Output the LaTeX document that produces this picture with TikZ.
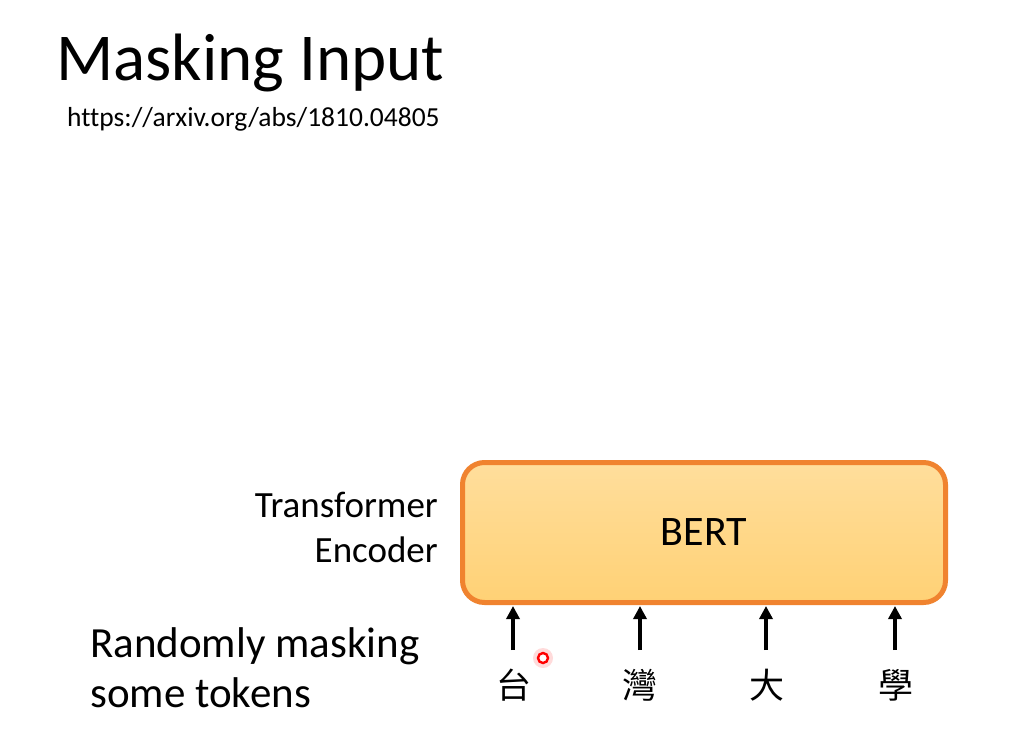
\documentclass[tikz,border=0pt]{standalone}
\usepackage{fontspec}
\setmainfont[Ligatures=NoCommon]{Carlito}
\newfontfamily\cjk{Noto Sans CJK TC}
\usetikzlibrary{arrows.meta}
\definecolor{boxedge}{HTML}{F0832F}
\definecolor{boxtop}{HTML}{FFDE9C}
\definecolor{boxbot}{HTML}{FFD175}
\tikzset{
  txt/.style={inner sep=0pt, text=black},
  bertbox/.style={draw=boxedge, line width=5pt, rounded corners=22pt,
    top color=boxtop, bottom color=boxbot, minimum width=483pt, minimum height=140pt,
    font=\fontsize{42}{50}\selectfont},
  tok/.style={inner sep=0pt, font=\cjk\fontsize{35}{40}\selectfont},
  arr/.style={-{Triangle[length=13pt,width=13pt]}, line width=3.4pt, black}
}
\begin{document}
\begin{tikzpicture}[x=1pt,y=-1pt]
\useasboundingbox (0,0) rectangle (1023,729);
\fill[white] (0,0) rectangle (1023,729);
\node[txt, anchor=base west, font=\fontsize{67}{79}\selectfont] (title) at (56,80) {Masking Input};
\node[txt, anchor=base west, font=\fontsize{27.5}{33}\selectfont] (url) at (67,126) {https://arxiv.org/abs/1810.04805};
\node[bertbox] (bert) at (704,532.5) {BERT};
\node[txt, anchor=base east, font=\fontsize{37}{45}\selectfont] (te1) at (438,517) {Transformer};
\node[txt, anchor=base east, font=\fontsize{37}{45}\selectfont] (te2) at (438,562) {Encoder};
\node[txt, anchor=base west, font=\fontsize{43}{45}\selectfont] (rm1) at (90,657) {Randomly masking};
\node[txt, anchor=base west, font=\fontsize{43}{45}\selectfont] (rm2) at (90,707) {some tokens};
\node[tok] (t1) at (514,685) {台};
\node[tok] (t2) at (640,685) {灣};
\node[tok] (t3) at (767,685) {大};
\node[tok] (t4) at (896,685) {學};
\foreach \i/\x in {1/513,2/640,3/766,4/895}{
  \coordinate (a\i) at (\x,650);
  \coordinate (b\i) at (\x,606);
  \draw[arr] (a\i) -- (b\i);
}
\node[circle, fill=red!20, opacity=0.7, minimum size=20pt, inner sep=0pt] (glow) at (543,658) {};
\node[circle, draw=red, line width=2.4pt, fill=white, minimum size=10pt, inner sep=0pt] (dot) at (543,658) {};
\end{tikzpicture}
\end{document}
